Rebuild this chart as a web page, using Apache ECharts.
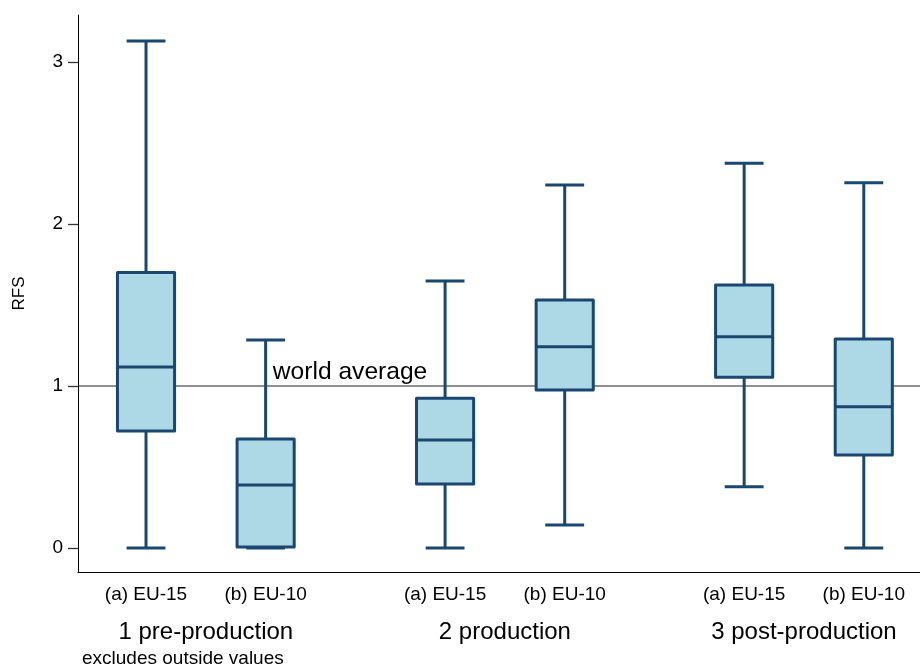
<!DOCTYPE html>
<html>
<head>
<meta charset="utf-8">
<script src="https://cdn.jsdelivr.net/npm/echarts@6/dist/echarts.min.js"></script>
<style>html,body{margin:0;padding:0;background:#fff}#c{width:920px;height:669px}</style>
</head>
<body>
<div id="c"></div>
<script>
// ---- data ----
const boxLabels = ['(a) EU-15', '(b) EU-10', '(a) EU-15', '(b) EU-10', '(a) EU-15', '(b) EU-10'];
const boxPositions = [1, 3, 6, 8, 11, 13];
const groupLabels = ['1 pre-production', '2 production', '3 post-production'];
const groupPositions = [2, 7, 12];
// [low whisker, Q1, median, Q3, high whisker]
const lowWhisker = [0.00, 0.00, 0.00, 0.142, 0.378, 0.00];
const q1Values   = [0.722, 0.006, 0.395, 0.975, 1.054, 0.574];
const medians    = [1.117, 0.389, 0.667, 1.243, 1.304, 0.872];
const q3Values   = [1.700, 0.673, 0.924, 1.531, 1.623, 1.290];
const highWhisker= [3.130, 1.284, 1.648, 2.241, 2.375, 2.255];
const yTicks = [0, 1, 2, 3];
const worldAverage = 1;
const worldLabelX = 3.12;
const noteText = 'excludes outside values';

const FONT = '"Liberation Sans", Arial, Helvetica, sans-serif';
const NAVY = '#1a476f';
const FILL = '#add8e6';

const xMin = -0.137, xMax = 13.94;
const yMin = -0.148, yMax = 3.29;

const boxData = boxPositions.map((p, i) => [p, lowWhisker[i], q1Values[i], medians[i], q3Values[i], highWhisker[i]]);

function renderItem(params, api) {
  const x = api.value(0);
  const lo = api.value(1), q1 = api.value(2), md = api.value(3), q3 = api.value(4), hi = api.value(5);
  const unit = api.size([1, 0])[0];
  const boxW = unit * 0.955;
  const capW = unit * 0.65;
  const pLo = api.coord([x, lo]), pQ1 = api.coord([x, q1]), pMd = api.coord([x, md]),
        pQ3 = api.coord([x, q3]), pHi = api.coord([x, hi]);
  const cx = pLo[0];
  const st = { stroke: NAVY, lineWidth: 3, fill: null };
  return {
    type: 'group',
    children: [
      { type: 'line', shape: { x1: cx, y1: pHi[1], x2: cx, y2: pQ3[1] }, style: st },
      { type: 'line', shape: { x1: cx, y1: pQ1[1], x2: cx, y2: pLo[1] }, style: st },
      { type: 'line', shape: { x1: cx - capW / 2, y1: pHi[1], x2: cx + capW / 2, y2: pHi[1] }, style: st },
      { type: 'line', shape: { x1: cx - capW / 2, y1: pLo[1], x2: cx + capW / 2, y2: pLo[1] }, style: st },
      { type: 'rect', shape: { x: cx - boxW / 2, y: pQ3[1], width: boxW, height: pQ1[1] - pQ3[1] },
        style: { stroke: NAVY, lineWidth: 3, fill: FILL, lineJoin: 'round' } },
      { type: 'line', shape: { x1: cx - boxW / 2, y1: pMd[1], x2: cx + boxW / 2, y2: pMd[1] }, style: st }
    ]
  };
}

const chart = echarts.init(document.getElementById('c'), null, { renderer: 'canvas' });
chart.setOption({
  animation: false,
  backgroundColor: '#fff',
  textStyle: { fontFamily: FONT },
  title: {
    text: noteText, left: 82, top: 649, padding: 0,
    textStyle: { fontFamily: FONT, fontSize: 19, fontWeight: 'normal', color: '#000' }
  },
  grid: { left: 78, right: 0, top: 15, bottom: 97, containLabel: false },
  xAxis: [
    {
      type: 'value', min: xMin, max: xMax, position: 'bottom',
      axisLine: { show: true, onZero: false, lineStyle: { color: '#000', width: 1 } },
      axisTick: { show: false },
      splitLine: { show: false },
      axisLabel: {
        customValues: boxPositions, margin: 13, fontSize: 19, fontFamily: FONT, color: '#000',
        formatter: v => { const i = boxPositions.indexOf(v); return i >= 0 ? boxLabels[i] : ''; }
      }
    },
    {
      type: 'value', min: xMin, max: xMax, position: 'bottom',
      axisLine: { show: false }, axisTick: { show: false }, splitLine: { show: false },
      axisLabel: {
        customValues: groupPositions, margin: 48, fontSize: 24, fontFamily: FONT, color: '#000',
        formatter: v => { const i = groupPositions.indexOf(v); return i >= 0 ? groupLabels[i] : ''; }
      }
    }
  ],
  yAxis: {
    type: 'value', min: yMin, max: yMax,
    name: 'RFS', nameLocation: 'middle', nameGap: 50, nameRotate: 90,
    nameTextStyle: { fontSize: 17, fontFamily: FONT, color: '#000' },
    axisLine: { show: true, onZero: false, lineStyle: { color: '#000', width: 1 } },
    axisTick: { show: true, customValues: yTicks, length: 10, lineStyle: { color: '#333', width: 1.3 } },
    axisLabel: { customValues: yTicks, margin: 15, fontSize: 19, fontFamily: FONT, color: '#000' },
    splitLine: { show: false }
  },
  series: [
    {
      type: 'line', xAxisIndex: 0, symbol: 'none', silent: true,
      data: [[xMin, worldAverage], [xMax, worldAverage]],
      lineStyle: { color: '#222', width: 1.2 },
      markPoint: {
        symbol: 'circle', symbolSize: 0, silent: true,
        data: [{ coord: [worldLabelX, worldAverage], value: 'world average' }],
        label: { show: true, position: 'right', distance: 0, offset: [0, -14],
          formatter: 'world average', fontSize: 24.6, fontFamily: FONT, color: '#000' }
      },
      z: 1
    },
    {
      type: 'custom', xAxisIndex: 0, renderItem: renderItem, clip: false,
      encode: { x: 0, y: [1, 2, 3, 4, 5] },
      data: boxData, z: 2
    }
  ]
});
</script>
</body>
</html>
